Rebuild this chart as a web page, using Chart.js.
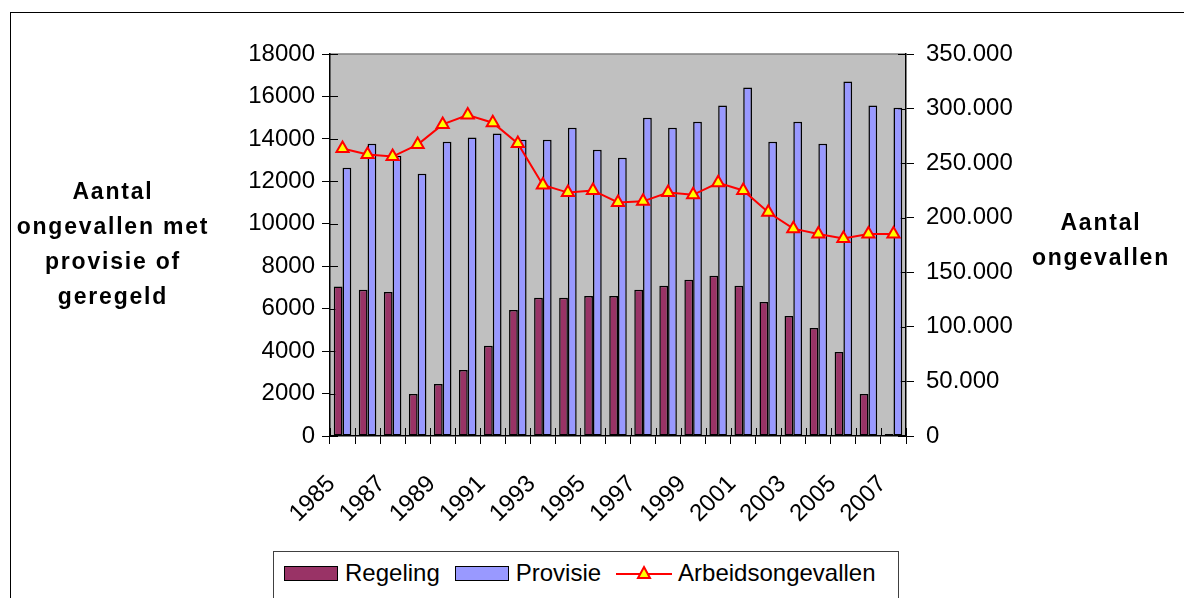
<!DOCTYPE html>
<html>
<head>
<meta charset="utf-8">
<script src="https://cdn.jsdelivr.net/npm/chart.js@4"></script>
<style>
  html, body { margin: 0; padding: 0; background: #fff; overflow: hidden; }
  body { width: 1184px; height: 598px; position: relative; font-family: "Liberation Sans", Arial, sans-serif; }
  #frame { position: absolute; left: 10px; top: 12px; width: 1300px; height: 700px; border: 1px solid #000; }
  #chart { position: absolute; left: 0; top: 0; }
  .axis-title { position: absolute; font-weight: bold; font-size: 23px; letter-spacing: 1.8px; line-height: 35px; text-align: center; color: #000; }
  #titleLeft { left: 3px; top: 174px; width: 220px; }
  #titleRight { left: 1021px; top: 205px; width: 160px; }
  #legend { position: absolute; left: 273px; top: 551px; width: 624px; height: 60px; border: 1px solid #404040; background: #fff; }
  #legend .row { display: flex; align-items: center; height: 42px; padding-left: 10px; font-size: 24px; color: #000; }
  #legend .box { width: 52px; height: 13px; border: 1.5px solid #000; margin-right: 7px; }
  #legend .lbl { margin-right: 15px; }
  #legend svg { margin-right: 6px; }
</style>
</head>
<body>
<div id="frame"></div>
<canvas id="chart" width="1184" height="598"></canvas>
<div class="axis-title" id="titleLeft">Aantal<br>ongevallen met<br>provisie of<br>geregeld</div>
<div class="axis-title" id="titleRight">Aantal<br>ongevallen</div>
<div id="legend"><div class="row" id="legendRow"></div></div>
<script>
// Categories
const years = ["1985", "1986", "1987", "1988", "1989", "1990", "1991", "1992", "1993", "1994", "1995", "1996",
  "1997", "1998", "1999", "2000", "2001", "2002", "2003", "2004", "2005", "2006", "2007"];

// Series (left axis)
const regeling = [7050, 6890, 6790, 1980, 2450, 3110, 4250, 5940, 6510, 6510, 6600, 6600,
  6890, 7080, 7360, 7550, 7080, 6320, 5660, 5090, 3960, 1980, 100];
const provisie = [12640, 13770, 13210, 12360, 13870, 14060, 14250, 13960, 13960, 14530, 13490, 13110,
  15000, 14530, 14810, 15570, 16420, 13870, 14810, 13770, 16700, 15570, 15470];

// Series (right axis)
const arbeidsongevallen = [263500, 258000, 256000, 267000, 285500, 294000, 287000, 268000, 230000, 223000, 225000, 214000,
  215000, 223000, 221000, 232000, 225000, 205000, 190000, 185000, 181000, 185000, 185000];

const seriesNames = ["Regeling", "Provisie", "Arbeidsongevallen"];
const seriesColors = ["#993366", "#9999FF", "#FF0000"];

// Ticks
const leftTicks = { min: 0, max: 18000, step: 2000 };
const rightTicks = { min: 0, max: 350000, step: 50000 };

const plotLeft = 330, plotRight = 906, plotTop = 54, plotBottom = 436;
const W = 1184, H = 598;

// gray plot area
const plotBackground = {
  id: "plotBackground",
  beforeDraw(chart) {
    const { ctx, chartArea: a } = chart;
    ctx.save();
    ctx.fillStyle = "#C0C0C0";
    ctx.fillRect(a.left, a.top, a.right - a.left, a.bottom - a.top);
    ctx.strokeStyle = "#808080";
    ctx.lineWidth = 1.5;
    ctx.beginPath();
    ctx.moveTo(a.left, a.top);
    ctx.lineTo(a.right, a.top);
    ctx.stroke();
    ctx.restore();
  }
};

// tick marks crossing the axes (inner half)
const innerTicks = {
  id: "innerTicks",
  beforeDatasetsDraw(chart) {
    const { ctx, chartArea: a, scales } = chart;
    ctx.save();
    ctx.strokeStyle = "#000";
    ctx.lineWidth = 1;
    ctx.beginPath();
    scales.y.ticks.forEach((t, i) => {
      const y = Math.round(scales.y.getPixelForTick(i)) + 0.5;
      ctx.moveTo(a.left, y); ctx.lineTo(a.left + 8, y);
    });
    scales.y1.ticks.forEach((t, i) => {
      const y = Math.round(scales.y1.getPixelForTick(i)) + 0.5;
      ctx.moveTo(a.right - 8, y); ctx.lineTo(a.right, y);
    });
    const step = (a.right - a.left) / years.length;
    for (let i = 0; i <= years.length; i++) {
      const x = Math.round(a.left + i * step) + 0.5;
      ctx.moveTo(x, a.bottom - 8); ctx.lineTo(x, a.bottom);
    }
    ctx.stroke();
    ctx.restore();
  }
};

const tickFont = { family: "'Liberation Sans', Arial, sans-serif", size: 24 };

new Chart(document.getElementById("chart").getContext("2d"), {
  type: "bar",
  data: {
    labels: years,
    datasets: [
      {
        type: "line",
        label: seriesNames[2],
        data: arbeidsongevallen,
        yAxisID: "y1",
        borderColor: seriesColors[2],
        borderWidth: 2,
        pointStyle: "triangle",
        pointRadius: 7,
        pointBackgroundColor: "#FFFF00",
        pointBorderColor: "#FF0000",
        pointBorderWidth: 2,
        tension: 0,
        order: 0,
      },
      {
        label: seriesNames[0],
        data: regeling,
        yAxisID: "y",
        backgroundColor: seriesColors[0],
        borderColor: "#000",
        borderWidth: 1.5,
        borderSkipped: false,
        order: 1,
      },
      {
        label: seriesNames[1],
        data: provisie,
        yAxisID: "y",
        backgroundColor: seriesColors[1],
        borderColor: "#000",
        borderWidth: 1.5,
        borderSkipped: false,
        order: 1,
      },
    ],
  },
  options: {
    responsive: false,
    animation: false,
    datasets: { bar: { categoryPercentage: 0.7, barPercentage: 1 } },
    layout: { padding: { top: plotTop, left: 0, right: 0, bottom: 0 } },
    plugins: { legend: { display: false }, tooltip: { enabled: false }, title: { display: false } },
    scales: {
      x: {
        offset: true,
        grid: { offset: true, drawOnChartArea: false, tickLength: 8, color: "#000" },
        border: { color: "#000", width: 1.5 },
        ticks: {
          autoSkip: false, maxRotation: 45, minRotation: 45, padding: 26, labelOffset: -11,
          color: "#000", font: tickFont,
          callback: (v, i) => (i % 2 === 0 ? years[i] : ""),
        },
        afterFit: (s) => { s.height = H - plotBottom; },
      },
      y: {
        position: "left",
        min: leftTicks.min, max: leftTicks.max,
        grid: { drawOnChartArea: false, tickLength: 8, color: "#000" },
        border: { color: "#000", width: 1.5 },
        ticks: { stepSize: leftTicks.step, padding: 7, color: "#000", font: tickFont, callback: (v) => String(v) },
        afterFit: (s) => { s.width = plotLeft; },
      },
      y1: {
        position: "right",
        min: rightTicks.min, max: rightTicks.max,
        grid: { drawOnChartArea: false, tickLength: 8, color: "#000" },
        border: { color: "#000", width: 1.5 },
        ticks: {
          stepSize: rightTicks.step, padding: 12, color: "#000", font: tickFont,
          callback: (v) => (v === 0 ? "0" : (v / 1000) + ".000"),
        },
        afterFit: (s) => { s.width = W - plotRight; },
      },
    },
  },
  plugins: [plotBackground, innerTicks],
});

// Legend built from the series names
const row = document.getElementById("legendRow");
[0, 1].forEach((k) => {
  const box = document.createElement("span");
  box.className = "box";
  box.style.background = seriesColors[k];
  const lbl = document.createElement("span");
  lbl.className = "lbl";
  lbl.textContent = seriesNames[k];
  row.appendChild(box);
  row.appendChild(lbl);
});
const svgNS = "http://www.w3.org/2000/svg";
const svg = document.createElementNS(svgNS, "svg");
svg.setAttribute("width", "56");
svg.setAttribute("height", "18");
svg.innerHTML = '<line x1="0" y1="10" x2="56" y2="10" stroke="#FF0000" stroke-width="2"/>' +
  '<polygon points="28,3 34,14 22,14" fill="#FFFF00" stroke="#FF0000" stroke-width="2"/>';
row.appendChild(svg);
const lbl3 = document.createElement("span");
lbl3.textContent = seriesNames[2];
row.appendChild(lbl3);
</script>
</body>
</html>
